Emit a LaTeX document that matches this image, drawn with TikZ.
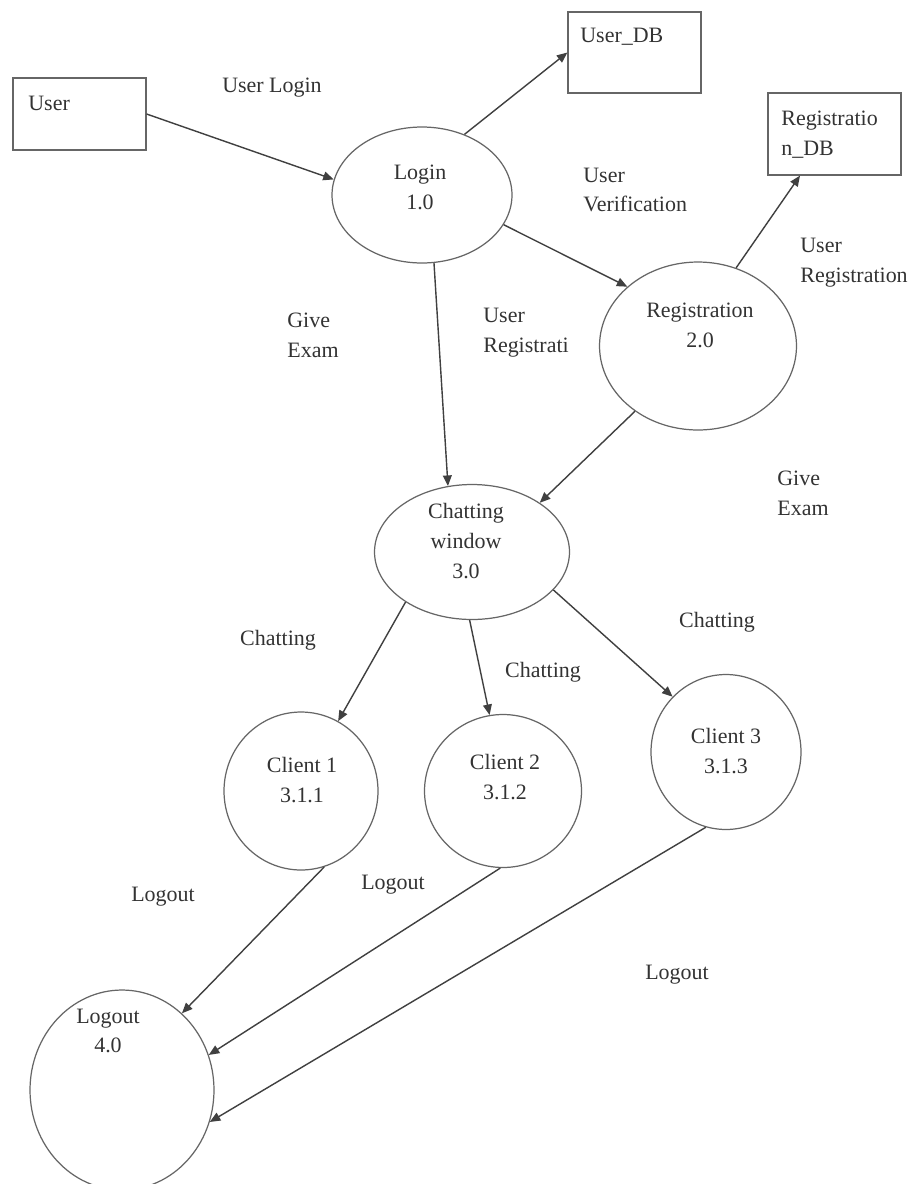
\documentclass[tikz,border=0pt]{standalone}
\usepackage{fontspec}
\setmainfont{Liberation Serif}
\usetikzlibrary{shapes.geometric,arrows.meta}
\begin{document}
\begin{tikzpicture}[x=0.02cm, y=-0.02cm,
    font=\fontsize{12.5}{17}\selectfont, text=black!80,
    proc/.style={ellipse, draw=black!60, line width=0.7pt, inner sep=0pt},
    store/.style={rectangle, draw=black!60, line width=0.7pt, minimum width=2.66cm},
    flow/.style={draw=black!75, line width=0.8pt, -{Triangle[length=6pt,width=5pt]}},
    lbl/.style={align=left, inner sep=0pt, anchor=west},
    ptxt/.style={align=center, inner sep=0pt}]
  \fill[white] (0,0) rectangle (912,1184);
  \useasboundingbox (0,0) rectangle (912,1184);
  % data stores
  \node[store, minimum height=1.44cm] (user) at (79.5,114) {};
  \node[lbl] at (28,103) {User};
  \node[store, minimum height=1.62cm] (userdb) at (634.5,52.5) {};
  \node[lbl] at (580,37) {User\_DB};
  \node[store, minimum height=1.64cm] (regdb) at (834.5,134) {};
  \node[lbl] at (781,135) {Registratio\\n\_DB};
  % processes
  \node[proc, minimum width=3.6cm, minimum height=2.72cm] (login) at (422,195) {};
  \node[ptxt] at (420,187) {Login\\1.0};
  \node[proc, minimum width=3.94cm, minimum height=3.36cm] (reg) at (698,346) {};
  \node[ptxt] at (700,325) {Registration\\2.0};
  \node[proc, minimum width=3.9cm, minimum height=2.7cm] (chat) at (472,552) {};
  \node[ptxt] at (466,541) {Chatting\\window\\3.0};
  \node[proc, minimum width=3.08cm, minimum height=3.16cm] (c1) at (301,791) {};
  \node[ptxt] at (302,780) {Client 1\\3.1.1};
  \node[proc, minimum width=3.14cm, minimum height=3.06cm] (c2) at (503,791) {};
  \node[ptxt] at (505,777) {Client 2\\3.1.2};
  \node[proc, minimum width=3.0cm, minimum height=3.1cm] (c3) at (726,752) {};
  \node[ptxt] at (726,751) {Client 3\\3.1.3};
  \node[proc, minimum width=3.68cm, minimum height=4.0cm] (logout) at (122,1090) {};
  \node[ptxt] at (108,1031) {Logout\\4.0};
  % flows
  \draw[flow] (user.east) -- (login.170);
  \draw[flow] (login.55) -- (userdb.west);
  \draw[flow] (login.-20) -- (reg.140);
  \draw[flow] (reg.64) -- ([xshift=-0.69cm]regdb.south);
  \draw[flow] (login.-80) -- (chat.110);
  \draw[flow] (reg.-134) -- (chat.36);
  \draw[flow] (chat.217) -- (c1.62);
  \draw[flow] (chat.268) -- (c2.100);
  \draw[flow] (chat.-25) -- (c3.134);
  \draw[flow] (c1.-73) -- (logout.52);
  \draw[flow] (c2.-92) -- (logout.22);
  \draw[flow] (c3.-105) -- (logout.-20);
  % flow labels
  \node[ptxt] at (272,88) {User Login};
  \node[lbl] at (583,190) {User\\Verification};
  \node[lbl] at (800,263) {User\\Registration};
  \node[lbl] at (287,335) {Give\\Exam};
  \node[lbl] at (483,333) {User\\Registrati};
  \node[lbl] at (777,493) {Give\\Exam};
  \node[ptxt] at (278,640) {Chatting};
  \node[ptxt] at (543,672) {Chatting};
  \node[ptxt] at (717,622) {Chatting};
  \node[ptxt] at (163,897) {Logout};
  \node[ptxt] at (393,885) {Logout};
  \node[ptxt] at (677,975) {Logout};
\end{tikzpicture}
\end{document}
